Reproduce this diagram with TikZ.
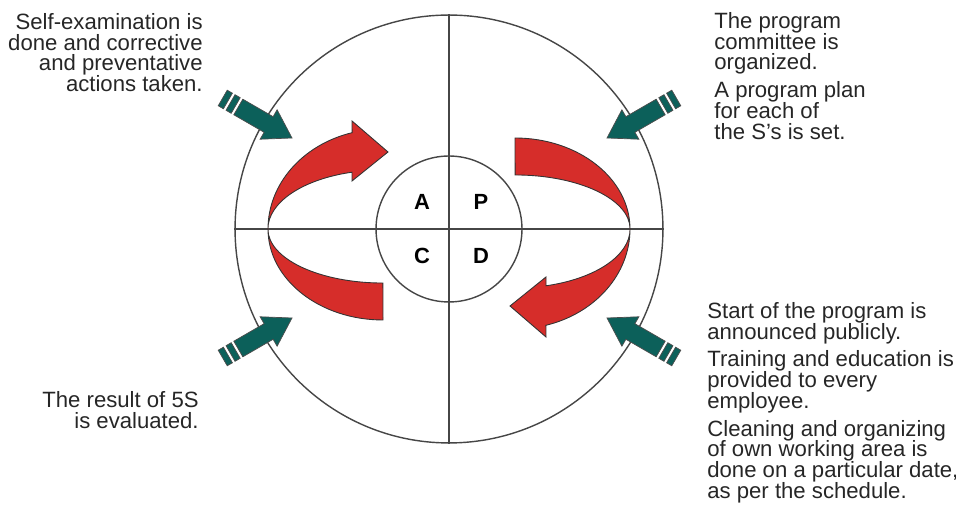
\documentclass[tikz,border=0pt]{standalone}
\usepackage{fontspec}
\setmainfont{Liberation Sans}
\usepackage{tikz}
\usetikzlibrary{calc}
\definecolor{cyclered}{RGB}{214,45,42}
\definecolor{pushteal}{RGB}{12,96,90}
\definecolor{ringgray}{RGB}{70,70,70}

\begin{document}
\begin{tikzpicture}[
    x=0.02cm, y=0.02cm,
    every node/.style={font=\fontsize{12.6}{11.8}\selectfont, inner sep=0pt, text=black!85},
    note/.style={align=left},
    ring/.style={circle, draw=ringgray, line width=0.8pt},
    axis/.style={draw=ringgray, line width=0.8pt},
    letter/.style={font=\fontsize{12.5}{14}\selectfont\bfseries, text=black},
    turn/.style={fill=cyclered, draw=black!80, line width=0.5pt},
    push/.style={fill=pushteal, draw=black!70, line width=0.4pt},
    crescent/.pic={
        \path[turn] (-181,0) arc[start angle=180, end angle=105.6, x radius=115, y radius=100]
            -- (-97,108) -- (-61,77) -- (-97,48) -- (-97,56.8)
            arc[start angle=105.6, end angle=180, x radius=115, y radius=59]
            arc[start angle=180, end angle=270, x radius=115, y radius=54]
            -- (-66,-91)
            arc[start angle=270, end angle=180, x radius=115, y radius=91] -- cycle;
    },
    inarrow/.pic={
        \path[push] (0,0) -- (-27,17) -- (-27,9) -- (-62,9) -- (-62,-9) -- (-27,-9) -- (-27,-17) -- cycle;
        \path[push] (-65,9) rectangle (-71,-9);
        \path[push] (-74,9) rectangle (-80,-9);
    }
]
\useasboundingbox (0,0) rectangle (956,506);
\node[ring, minimum size=8.56cm] (wheel) at (449,277) {};
\draw[axis] (wheel.north) -- (wheel.south);
\draw[axis] (wheel.west) -- (wheel.east);
\node[ring, fill=white, minimum size=2.92cm] (pdca) at (wheel.center) {};
\draw[axis] (pdca.north) -- (pdca.south);
\draw[axis] (pdca.west) -- (pdca.east);
\node[letter] (A) at (422,304) {A};
\node[letter] (P) at (481,304) {P};
\node[letter] (C) at (422,250) {C};
\node[letter] (D) at (481,250) {D};
\pic at (wheel.center) {crescent};
\pic[rotate=180] at (wheel.center) {crescent};
\pic[rotate=-30] at (292,368) {inarrow};
\pic[rotate=210] at (607,368) {inarrow};
\pic[rotate=30] at (292,188) {inarrow};
\pic[rotate=150] at (607,188) {inarrow};
\node[note, align=right, anchor=north east] (act) at (203,493) {Self-examination is\\done and corrective\\and preventative\\actions taken.};
\node[note, anchor=north west] (plan) at (714,494) {The program\\committee is\\organized.\\[4pt]A program plan\\for each of\\the S’s is set.};
\node[note, anchor=north west] (do) at (707,204) {Start of the program is\\announced publicly.\\[4pt]Training and education is\\provided to every\\employee.\\[4pt]Cleaning and organizing\\of own working area is\\done on a particular date,\\as per the schedule.};
\node[note, align=right, anchor=north east] (check) at (199,115) {The result of 5S\\is evaluated.};
\end{tikzpicture}
\end{document}
